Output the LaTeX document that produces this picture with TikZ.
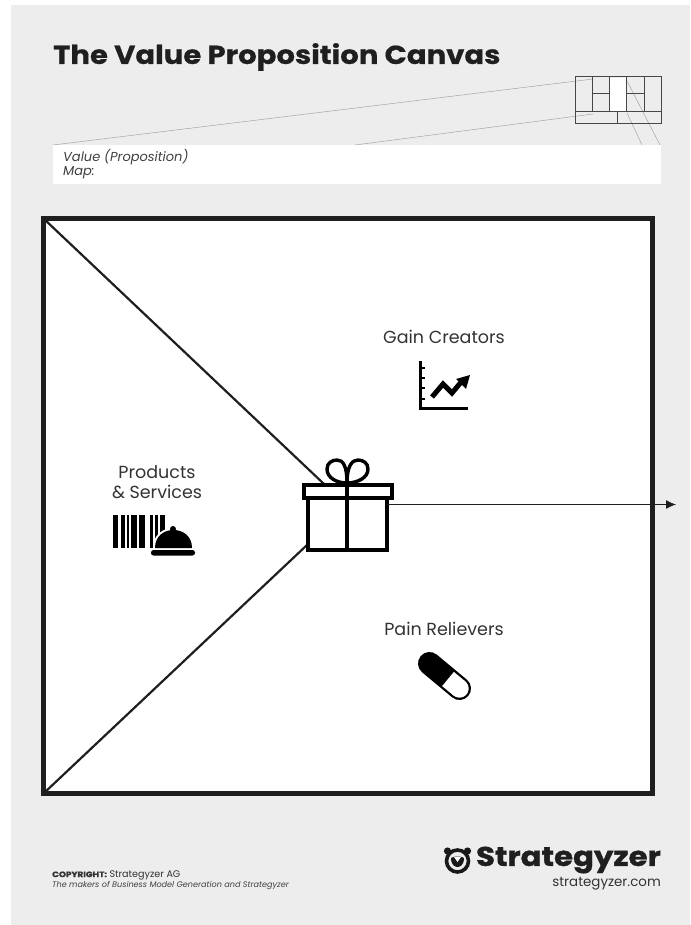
\documentclass[tikz,border=0pt]{standalone}
\usepackage{fontspec}
\usetikzlibrary{arrows.meta}
\setmainfont{Poppins}
\newfontfamily\heavyfont{Poppins}[UprightFont=* Bold,FakeBold=0.6,FakeStretch=1.12]
\newfontfamily\brandfont{Poppins}[UprightFont=* Bold,FakeBold=1.2,FakeStretch=1.14]
\begin{document}
\begin{tikzpicture}[x=1pt,y=-1pt,
  framebox/.style={draw=black!88,line width=5pt,fill=white,outer sep=0pt,inner sep=0pt},
  spoke/.style={draw=black!88,line width=2.2pt},
  ghost/.style={draw=black!35,line width=.5pt},
  cell/.style={draw=black!72,line width=1pt},
  label/.style={font=\fontsize{17.5}{20}\selectfont,text=black!80,align=center,inner sep=0pt},
  icon/.style={draw=black,line width=3pt},
  gift/.style={draw=black,line width=3.6pt,fill=white,outer sep=0pt,inner sep=0pt}]
\useasboundingbox (0,0) rectangle (690,925);
\fill[white] (0,0) rectangle (690,925);
\fill[black!7] (11,5) rectangle (690,925);
% title
\node[anchor=west,inner sep=0pt,text=black!88,font=\heavyfont\fontsize{26}{30}\selectfont] (title) at (53,57) {The Value Proposition Canvas};
% header strip
\fill[white] (53,145) rectangle (661,184);
\node[anchor=north west,inner sep=0pt,align=left,text=black!75,font=\fontsize{13}{14}\selectfont\itshape] (map) at (63,149) {Value (Proposition)\\Map:};
% mini canvas
\draw[ghost] (53,145) -- (593,79);
\draw[ghost] (355,145) -- (593,114);
\draw[ghost] (627,81) -- (660,145);
\draw[ghost] (627,113) -- (642,145);
\fill[white] (609,78) rectangle (626,112);
\draw[cell] (575,77) rectangle (661,124);
\draw[cell] (575,112) -- (661,112);
\draw[cell] (592,77) -- (592,112);
\draw[cell] (609,77) -- (609,112);
\draw[cell] (626,77) -- (626,112);
\draw[cell] (644,77) -- (644,112);
\draw[cell] (592,94) -- (609,94);
\draw[cell] (626,94) -- (644,94);
\draw[cell] (617,112) -- (617,124);
% frame
\node[framebox,minimum width=608.5pt,minimum height=575pt,anchor=north west] (frame) at (43.5,218.5) {};
\coordinate (hubtop) at (324,484);
\coordinate (hubbottom) at (307,545);
\coordinate (tip) at (676,504.5);
\draw[spoke] (frame.north west) -- (hubtop);
\draw[spoke] (frame.south west) -- (hubbottom);
% ribbon loops
\draw[icon,line width=3.4pt] (347,483) .. controls (337,483) and (327,478) .. (327,469) .. controls (327,463) and (332,460) .. (337,460) .. controls (343,460) and (347,466) .. (347,483);
\draw[icon,line width=3.4pt] (347,483) .. controls (357,483) and (368,478) .. (368,469) .. controls (368,463) and (363,460) .. (358,460) .. controls (352,460) and (347,466) .. (347,483);
\node[gift,minimum width=79pt,minimum height=52pt,anchor=north west] (giftbody) at (308,498) {};
\node[gift,minimum width=88pt,minimum height=13pt,anchor=north west] (giftlid) at (304,485) {};
\draw[icon,line width=3.8pt] (346.7,485) -- (346.7,550);
\draw[line width=1.1pt,draw=black!88,-{Latex[length=10pt,width=9pt]}] (giftbody.east |- tip) -- (tip);
% labels
\node[label] (gain) at (444,337) {Gain Creators};
\node[label] (pain) at (444,629) {Pain Relievers};
\node[label] (prod) at (157,482) {Products\\\& Services};
% gain icon
\draw[icon] (420,361) -- (420,408) -- (468,408);
\draw[icon,line width=2.4pt] (420,368) -- (425,368) (420,378) -- (425,378) (420,388) -- (425,388) (420,399) -- (425,399);
\draw[draw=black,line width=5pt,miter limit=10] (432,397) -- (443,384) -- (452,393) -- (462,381);
\fill[black] (456,379) -- (470,375) -- (466,389) -- cycle;
% pain icon
\draw[black,line width=23pt,line cap=round] (429.5,663.5) -- (459.5,688.5);
\draw[white,line width=18.4pt] (448,679) -- (459.5,688.5);
\fill[white] (459.5,688.5) circle (9.2);
% products icon
\foreach \a/\b in {113/118,121/125,126.5/129,131/137,139/145,150/153,154.5/158,159.5/165}{\fill[black] (\a,515) rectangle (\b,548);}
\fill[white] (150,550) rectangle (197,558);
\draw[white,line width=4pt,fill=white] (155,548) .. controls (155,536) and (164,530) .. (173.5,530) .. controls (183,530) and (192,536) .. (192,548) -- cycle;
\fill[black] (155,548) .. controls (155,536) and (164,530) .. (173.5,530) .. controls (183,530) and (192,536) .. (192,548) -- cycle;
\fill[black] (173,529) circle (3);
\fill[black,rounded corners=2.5pt] (151,550) rectangle (195,555.5);
% footer
\node[anchor=west,inner sep=0pt,text=black!80,font=\fontsize{9.6}{8}\selectfont] (copy) at (52,875) {{\brandfont\fontsize{7.8}{8}\selectfont COPYRIGHT:} Strategyzer AG};
\node[anchor=west,inner sep=0pt,text=black!75,font=\fontsize{8.1}{8}\selectfont\itshape] (makers) at (52,885.5) {The makers of Business Model Generation and Strategyzer};
\node[anchor=east,inner sep=0pt,text=black!88,font=\brandfont\fontsize{27}{28}\selectfont] (brand) at (661,860) {Strategyzer};
\node[anchor=east,inner sep=0pt,text=black!80,font=\fontsize{13.4}{15}\selectfont] (url) at (661,884) {strategyzer.com};
% logo
\draw[black!90,line width=3.6pt] (457.5,861) circle (11);
\fill[black!90] (447.5,851) circle (3.6) (467.5,851) circle (3.6);
\fill[black!90] (451,858) .. controls (453,856) and (462,856) .. (464,858) .. controls (464,865) and (460,867) .. (457.5,867) .. controls (455,867) and (451,865) .. (451,858) -- cycle;
\fill[white] (457.5,857) -- (461,857) -- (457.5,862) -- (454,857) -- cycle;
\end{tikzpicture}
\end{document}
